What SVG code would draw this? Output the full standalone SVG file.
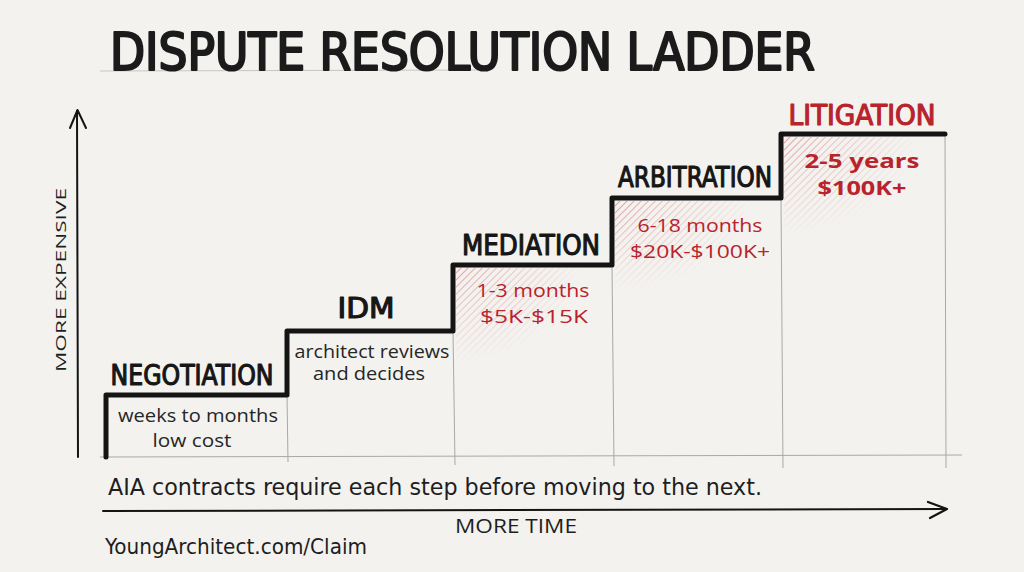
<svg xmlns="http://www.w3.org/2000/svg" width="1024" height="572" viewBox="0 0 1024 572">
  <defs>
    <style>
      .title{font-family:"DejaVu Sans Condensed","DejaVu Sans",sans-serif;font-size:52px;fill:#1b1b1b;stroke:#1b1b1b;stroke-width:2.2;stroke-linejoin:round}
      .step{font-family:"DejaVu Sans Condensed","DejaVu Sans",sans-serif;font-size:28px;fill:#161616;stroke:#161616;stroke-width:1.1;stroke-linejoin:round;text-anchor:middle}
      .note{font-family:"Open Sans","DejaVu Sans",sans-serif;font-size:18px;fill:#262626;text-anchor:middle}
      .red{fill:#b8232c;stroke:#b8232c}
      .nored{fill:#b8232c}
      .bold{font-weight:bold}
      .foot{font-family:"DejaVu Sans Condensed","DejaVu Sans",sans-serif;font-size:23px;fill:#1e1e1e}
      .axis{font-family:"Open Sans","DejaVu Sans",sans-serif;font-size:15px;fill:#1e1e1e}
      .pencil{stroke:#a8a8a8;stroke-width:1;fill:none}
      .ink{stroke:#141414;fill:none;stroke-linecap:round;stroke-linejoin:round}
    </style>
    <pattern id="hatch" patternUnits="userSpaceOnUse" width="5" height="5" patternTransform="rotate(45)">
      <line x1="0" y1="0" x2="0" y2="5" stroke="#d4656d" stroke-width="1.2"/>
    </pattern>
    <radialGradient id="fadeGrad" cx="0" cy="0" r="1" fx="0" fy="0">
      <stop offset="0" stop-color="#fff" stop-opacity="0.95"/>
      <stop offset="0.45" stop-color="#fff" stop-opacity="0.45"/>
      <stop offset="0.85" stop-color="#fff" stop-opacity="0"/>
    </radialGradient>
    <mask id="fadeMask" maskContentUnits="objectBoundingBox">
      <rect x="0" y="0" width="1" height="1" fill="url(#fadeGrad)"/>
    </mask>
  </defs>

  <rect width="1024" height="572" fill="#f3f2ef"/>

  <!-- title -->
  <g id="title">
    <line class="pencil" x1="100" y1="71" x2="480" y2="70" opacity="0.6"/>
    <text class="title" x="110" y="70" textLength="705" lengthAdjust="spacingAndGlyphs">DISPUTE RESOLUTION LADDER</text>
  </g>

  <!-- pencil guides -->
  <g id="guides">
    <path class="pencil" d="M100,457 L962,455"/>
    <path class="pencil" d="M287,395 L288,462"/>
    <path class="pencil" d="M453,331 L455,465"/>
    <path class="pencil" d="M612,265 L614,466"/>
    <path class="pencil" d="M781,198 L783,468"/>
    <path class="pencil" d="M945,134 L946,468"/>
  </g>

  <!-- hatching -->
  <g id="hatching">
    <rect x="456" y="268" width="150" height="110" fill="url(#hatch)" mask="url(#fadeMask)"/>
    <rect x="615" y="201" width="165" height="105" fill="url(#hatch)" mask="url(#fadeMask)"/>
    <rect x="784" y="137" width="158" height="115" fill="url(#hatch)" mask="url(#fadeMask)"/>
  </g>

  <!-- staircase and axes -->
  <g id="connectors">
    <path class="ink" stroke-width="5" d="M106,457 V395 H287 V331 H453 V265 H612 V198 H781 V134 H945"/>
    <path class="ink" stroke-width="2" d="M78,457 L77,111"/>
    <path class="ink" stroke-width="2" d="M70,128 L77.5,110 L86,128"/>
    <path class="ink" stroke-width="2" d="M103,511 L946,509"/>
    <path class="ink" stroke-width="2.2" d="M928,502 L947,509 L930,518"/>
  </g>

  <g id="negotiation">
    <text class="step" x="192" y="385" textLength="163" lengthAdjust="spacingAndGlyphs">NEGOTIATION</text>
    <text class="note" x="198" y="422" textLength="160" lengthAdjust="spacingAndGlyphs">weeks to months</text>
    <text class="note" x="192" y="447" textLength="79" lengthAdjust="spacingAndGlyphs">low cost</text>
  </g>

  <g id="idm">
    <text class="step" x="366" y="318" textLength="57" lengthAdjust="spacingAndGlyphs">IDM</text>
    <text class="note" x="372" y="358" textLength="155" lengthAdjust="spacingAndGlyphs">architect reviews</text>
    <text class="note" x="369" y="380" textLength="112" lengthAdjust="spacingAndGlyphs">and decides</text>
  </g>

  <g id="mediation">
    <text class="step" x="531" y="255" textLength="138" lengthAdjust="spacingAndGlyphs">MEDIATION</text>
    <text class="note nored" x="533" y="297" style="font-size:19px" textLength="113" lengthAdjust="spacingAndGlyphs">1-3 months</text>
    <text class="note nored" x="534" y="323" style="font-size:19px" textLength="108" lengthAdjust="spacingAndGlyphs">$5K-$15K</text>
  </g>

  <g id="arbitration">
    <text class="step" x="695" y="187" textLength="154" lengthAdjust="spacingAndGlyphs">ARBITRATION</text>
    <text class="note nored" x="700" y="232" style="font-size:19px" textLength="125" lengthAdjust="spacingAndGlyphs">6-18 months</text>
    <text class="note nored" x="700" y="258" style="font-size:19px" textLength="140" lengthAdjust="spacingAndGlyphs">$20K-$100K+</text>
  </g>

  <g id="litigation">
    <text class="step red" x="862" y="125" textLength="147" lengthAdjust="spacingAndGlyphs">LITIGATION</text>
    <text class="note nored bold" x="862" y="168" style="font-size:20px" textLength="115" lengthAdjust="spacingAndGlyphs">2-5 years</text>
    <text class="note nored bold" x="862" y="195" style="font-size:20px" textLength="89" lengthAdjust="spacingAndGlyphs">$100K+</text>
  </g>

  <g id="axis-labels">
    <text class="axis" transform="translate(66,280) rotate(-90)" text-anchor="middle" textLength="184" lengthAdjust="spacingAndGlyphs">MORE EXPENSIVE</text>
    <text class="axis" x="455" y="533" style="font-size:20px" textLength="122" lengthAdjust="spacingAndGlyphs">MORE TIME</text>
  </g>

  <g id="footer">
    <text class="foot" x="108" y="495" textLength="654" lengthAdjust="spacingAndGlyphs">AIA contracts require each step before moving to the next.</text>
    <text class="foot" x="105" y="554" style="font-size:22px" textLength="262" lengthAdjust="spacingAndGlyphs">YoungArchitect.com/Claim</text>
  </g>
</svg>
